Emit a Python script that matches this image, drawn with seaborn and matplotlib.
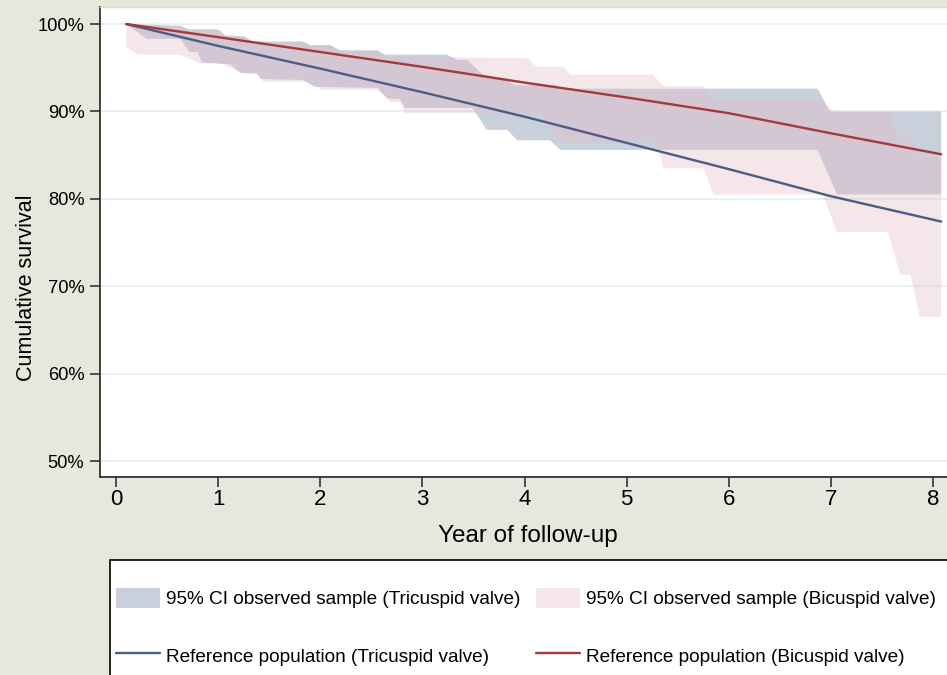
import numpy as np
import matplotlib
matplotlib.use("Agg")
import matplotlib.pyplot as plt
import seaborn as sns
from matplotlib.patches import Patch, Rectangle
from matplotlib.lines import Line2D

# ---------------- data ----------------
ref_years = [0.1, 1, 2, 3, 4, 5, 6, 7, 8.08]
ref_tricuspid = [100.0, 97.5, 94.9, 92.2, 89.4, 86.4, 83.4, 80.3, 77.4]
ref_bicuspid = [100.0, 98.5, 96.8, 95.1, 93.3, 91.6, 89.8, 87.5, 85.1]

# 95% CI observed sample, Tricuspid valve (upper / lower boundaries)
tri_up_x = [0.10, 0.63, 0.71, 1.00, 1.07, 1.26, 1.33, 1.83, 1.90, 2.10, 2.19, 2.56,
            2.63, 3.24, 3.34, 3.44, 3.59, 3.80, 3.90, 4.30, 4.38, 6.87, 6.99, 8.08]
tri_up_y = [100.0, 99.8, 99.4, 99.4, 98.7, 98.6, 98.0, 98.0, 97.6, 97.6, 97.0, 97.0,
            96.5, 96.5, 95.9, 95.9, 94.2, 93.8, 93.0, 93.0, 92.6, 92.6, 90.0, 90.0]
tri_lo_x = [0.10, 0.30, 0.63, 0.72, 0.80, 0.84, 1.12, 1.22, 1.38, 1.42, 1.83, 1.95,
            2.56, 2.66, 2.78, 2.83, 3.49, 3.63, 3.83, 3.93, 4.25, 4.35, 6.87, 7.06, 8.08]
tri_lo_y = [100.0, 98.3, 98.3, 96.8, 96.8, 95.6, 95.4, 94.4, 94.3, 93.7, 93.6, 92.8,
            92.7, 91.5, 91.4, 90.4, 90.4, 87.9, 87.9, 86.7, 86.7, 85.6, 85.6, 80.5, 80.5]

# 95% CI observed sample, Bicuspid valve (upper / lower boundaries)
bi_up_x = [0.10, 0.63, 0.71, 1.00, 1.07, 1.26, 1.33, 1.83, 1.90, 2.10, 2.19, 2.56,
           2.63, 3.24, 4.03, 4.12, 4.38, 4.45, 5.26, 5.36, 5.75, 5.85, 6.92, 7.02,
           7.58, 7.65, 7.78, 7.87, 8.08]
bi_up_y = [100.0, 99.7, 99.3, 99.2, 98.6, 98.5, 97.9, 97.9, 97.5, 97.5, 96.9, 96.9,
           96.3, 96.2, 96.1, 95.1, 95.1, 94.2, 94.2, 92.9, 92.9, 91.3, 91.3, 89.9,
           89.9, 87.1, 87.1, 84.7, 84.7]
bi_lo_x = [0.10, 0.21, 0.63, 0.82, 1.02, 1.21, 1.38, 1.44, 1.93, 2.00, 2.56, 2.68,
           2.78, 2.83, 4.15, 4.35, 5.30, 5.36, 5.75, 5.85, 6.92, 7.06, 7.56, 7.68,
           7.78, 7.87, 8.08]
bi_lo_y = [97.4, 96.5, 96.5, 95.5, 95.5, 94.5, 94.5, 93.4, 93.4, 92.5, 92.5, 91.1,
           91.1, 89.8, 89.8, 86.5, 86.5, 83.5, 83.5, 80.5, 80.5, 76.2, 76.2, 71.3,
           71.3, 66.5, 66.5]

x_ticks = [0, 1, 2, 3, 4, 5, 6, 7, 8]
y_ticks = [50, 60, 70, 80, 90, 100]
y_tick_labels = ["50%", "60%", "70%", "80%", "90%", "100%"]

labels = ["95% CI observed sample (Tricuspid valve)",
          "Reference population (Tricuspid valve)",
          "95% CI observed sample (Bicuspid valve)",
          "Reference population (Bicuspid valve)"]

# ---------------- style ----------------
sns.set_theme(style="white")
plt.rcParams["font.family"] = ["Liberation Sans", "DejaVu Sans"]

BG = "#e7e7db"
TRI_BAND = "#c8d0dc"
BI_BAND = "#e5b8c3"
BI_ALPHA = 0.35
TRI_LINE = "#4c5c84"
BI_LINE = "#a3393d"
AX_COL = "#333333"

W, H = 947, 675
fig = plt.figure(figsize=(W / 100, H / 100), dpi=100, facecolor=BG)
ax = fig.add_axes([100 / W, (H - 477) / H, (W - 100) / W, (477 - 7) / H])
ax.set_facecolor("white")

# grid
for yv in y_ticks:
    ax.axhline(yv, color="#e8f0f2", lw=1.3, zorder=0)

# bands
ax.fill(np.concatenate([tri_up_x, tri_lo_x[::-1]]),
        np.concatenate([tri_up_y, tri_lo_y[::-1]]),
        color=TRI_BAND, lw=0, zorder=1)
ax.fill(np.concatenate([bi_up_x, bi_lo_x[::-1]]),
        np.concatenate([bi_up_y, bi_lo_y[::-1]]),
        color=BI_BAND, alpha=BI_ALPHA, lw=0, zorder=2)

# reference lines
sns.lineplot(x=ref_years, y=ref_tricuspid, color=TRI_LINE, lw=1.7, ax=ax, zorder=3)
sns.lineplot(x=ref_years, y=ref_bicuspid, color=BI_LINE, lw=1.7, ax=ax, zorder=3)

ax.set_xlim(-0.157, 8.137)
ax.set_ylim(48.17, 101.95)
ax.set_xticks(x_ticks)
ax.set_xticklabels([str(t) for t in x_ticks])
ax.set_yticks(y_ticks)
ax.set_yticklabels(y_tick_labels)

for s in ["left", "bottom"]:
    ax.spines[s].set_color(AX_COL)
    ax.spines[s].set_linewidth(1.3)
ax.spines["top"].set_color("#dcdcc8")
ax.spines["top"].set_linewidth(1.0)
ax.spines["right"].set_visible(False)

ax.tick_params(axis="y", which="major", direction="out", length=7.2, width=1.2,
               color=AX_COL, labelsize=13.2, pad=4.0, left=True, labelcolor="black")
ax.tick_params(axis="x", which="major", direction="out", length=7.2, width=1.2,
               color=AX_COL, labelsize=16, pad=1.5, bottom=True, labelcolor="black")

ax.set_xlabel("Year of follow-up", fontsize=17.5, color="black")
ax.xaxis.set_label_coords((528 - 100) / 847, (477 - 525) / 470)
ax.set_ylabel("Cumulative survival", fontsize=15.5, color="black")
ax.yaxis.set_label_coords((37 - 100) / 847, (477 - 288) / 470)

# legend box
fig.add_artist(Rectangle((110 / W, -0.05), 1.0, (H - 560) / H + 0.05,
                         transform=fig.transFigure, facecolor="white",
                         edgecolor="black", lw=1.2, zorder=-1))

handles = [Patch(facecolor=TRI_BAND, edgecolor="none"),
           Line2D([], [], color=TRI_LINE, lw=1.7),
           Patch(facecolor=BI_BAND, alpha=BI_ALPHA, edgecolor="none"),
           Line2D([], [], color=BI_LINE, lw=1.7)]
ax.legend(handles, labels, loc="upper left",
          bbox_to_anchor=(116 / W, 1 - 587.5 / H), bbox_transform=fig.transFigure,
          ncol=2, frameon=False, fontsize=13.7, handlelength=2.3, handleheight=1.3,
          handletextpad=0.32, columnspacing=0.85, labelspacing=1.92,
          borderpad=0, borderaxespad=0, labelcolor="black")

fig.savefig("out.png", dpi=100, facecolor=BG)
